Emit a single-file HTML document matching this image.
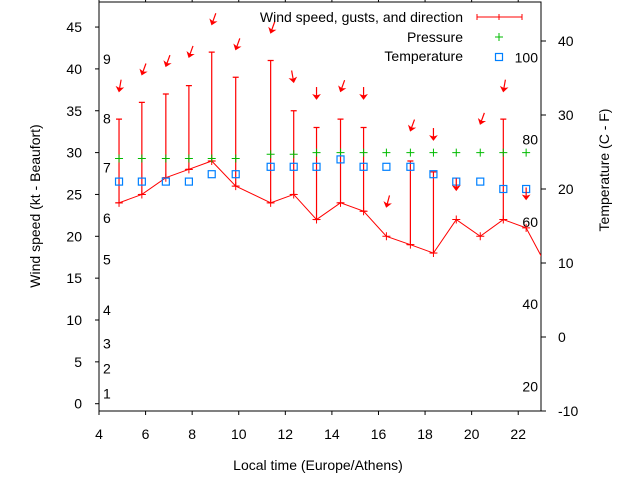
<!DOCTYPE html>
<html><head><meta charset="utf-8"><style>
html,body{margin:0;padding:0;background:#fff}
svg{display:block;font-family:"Liberation Sans",sans-serif}
</style></head><body>
<svg id="c" width="640" height="480" viewBox="0 0 640 480"></svg>
<script>
const hours=[4.86,5.84,6.87,7.86,8.84,9.87,11.37,12.36,13.34,14.37,15.36,16.34,17.37,18.36,19.34,20.37,21.36,22.34,23.3];
const wind=[24,25,27,28,29,26,24,25,22,24,23,20,19,18,22,20,22,21,16];
const gusts=[34,36,37,38,42,39,41,35,33,34,33,null,29,27.7,null,null,34,null,null];
const pressure=[29.3,29.3,29.3,29.3,29.3,29.3,29.8,29.8,30,30,30,30,30,30,30,30,30,30,null];
const tempC=[21,21,21,21,22,22,23,23,23,24,23,23,23,22,21,21,20,20,null];
const arrowLevel=[37.3,39.3,40.3,41.4,45.3,42.3,44.3,38.4,36.4,37.3,36.4,23.5,32.6,31.5,25.5,33.4,37.3,24.4,null];
const windDir=[10,20,20,20,20,20,20,350,0,20,0,15,20,0,0,20,10,0,null];
const xTicks=[4,6,8,10,12,14,16,18,20,22];
const yTicks=[0,5,10,15,20,25,30,35,40,45];
const y2Ticks=[-10,0,10,20,30,40];
const beaufortLabels=[[1,1.2],[2,4.2],[3,7.2],[4,11.2],[5,17.2],[6,22.2],[7,28.2],[8,34.1],[9,41.2]];
const fahrenheitLabels=[20,40,60,80,100];

const L=99,R=541,T=2,B=411;
const X=h=>L+(h-4)*23.29;
const Y=v=>403.7-v*8.37;
const Y2=c=>337-c*7.4;
const svg=document.getElementById('c');
const NS='http://www.w3.org/2000/svg';
function mk(tag,attrs,parent){const e=document.createElementNS(NS,tag);for(const k in attrs)e.setAttribute(k,attrs[k]);(parent||svg).appendChild(e);return e;}
function txt(x,y,s,anchor,extra){const e=mk('text',Object.assign({x:x,y:y,'font-size':14,'text-anchor':anchor||'middle',fill:'#000'},extra||{}));e.textContent=s;return e;}

const defs=mk('defs',{});const cp=mk('clipPath',{id:'pc'},defs);mk('rect',{x:L,y:T,width:R-L,height:B-T},cp);

let a=mk('path',{d:`M${L} ${T}V${B}H${R}V${T}H${L}`,stroke:'#000','stroke-width':1,fill:'none'});

xTicks.forEach(t=>{const x=X(t);mk('line',{x1:x,y1:B,x2:x,y2:B+4,stroke:'#000'});mk('line',{x1:x,y1:T,x2:x,y2:T-4,stroke:'#000'});
 const e=txt(x,439,String(t));});
yTicks.forEach(t=>{const y=Y(t);mk('line',{x1:L,y1:y,x2:L-4,y2:y,stroke:'#000'});
 const e=txt(82,y+5,String(t),'end');});
y2Ticks.forEach(t=>{const y=Y2(t);mk('line',{x1:R,y1:y,x2:R+5,y2:y,stroke:'#000'});
 const e=txt(558,y+5,String(t),'start');});
beaufortLabels.forEach(b=>{const e=txt(103,Y(b[1])+5,String(b[0]),'start');});
fahrenheitLabels.forEach(f=>{const e=txt(538,Y2((f-32)*5/9)+5,String(f),'end');});

let e=txt(318,470,'Local time (Europe/Athens)');
e=txt(0,0,'Wind speed (kt - Beaufort)','middle',{transform:'translate(40,206) rotate(-90)'});
e=txt(0,0,'Temperature (C - F)','middle',{transform:'translate(609,170) rotate(-90)'});

const g=mk('g',{'clip-path':'url(#pc)'});
hours.forEach((h,i)=>{if(gusts[i]==null)return;const x=X(h);
 const b=mk('path',{d:`M${x} ${Y(wind[i])}V${Y(gusts[i])}M${x-3} ${Y(gusts[i])}H${x+3}M${x-3} ${Y(wind[i])}H${x+3}`,stroke:'#f00','stroke-width':1.2,fill:'none'},g);
 });
const wl=mk('polyline',{points:hours.map((h,i)=>X(h)+','+Y(wind[i])).join(' '),stroke:'#f00','stroke-width':1,fill:'none'},g);

hours.forEach((h,i)=>{const x=X(h),y=Y(wind[i]);const p=mk('path',{d:`M${x-4} ${y}H${x+4}M${x} ${y-4}V${y+4}`,stroke:'#f00','stroke-width':1},g);
 });
hours.forEach((h,i)=>{if(pressure[i]==null)return;const x=X(h),y=Y(pressure[i]);const p=mk('path',{d:`M${x-4} ${y}H${x+4}M${x} ${y-4}V${y+4}`,stroke:'#0b0','stroke-width':1},g);
 });
hours.forEach((h,i)=>{if(tempC[i]==null)return;const x=X(h),y=Y2(tempC[i]);const p=mk('rect',{x:x-3.5,y:y-3.5,width:7,height:7,stroke:'#0080ff','stroke-width':1.2,fill:'none'},g);
 });
hours.forEach((h,i)=>{if(arrowLevel[i]==null)return;const x=X(h),y=Y(arrowLevel[i]);const ag=mk('g',{transform:`translate(${x},${y}) rotate(${windDir[i]})`},g);
 
 mk('line',{x1:0,y1:-12,x2:0,y2:-2,stroke:'#f00','stroke-width':1.2},ag);
 mk('path',{d:'M0 0L-3 -4L0 -3L3 -4Z',fill:'#f00',stroke:'#f00','stroke-width':1},ag);});

e=txt(463,22,'Wind speed, gusts, and direction','end');
e=mk('path',{d:'M477 17H522M477 14V20M522 14V20M499 14V20',stroke:'#f00','stroke-width':1,fill:'none'});
e=txt(463,42,'Pressure','end');
e=mk('path',{d:'M495 37H503M499 33V41',stroke:'#0b0','stroke-width':1});
e=txt(463,61,'Temperature','end');
e=mk('rect',{x:495.5,y:53.5,width:7,height:7,stroke:'#0080ff','stroke-width':1.2,fill:'none'});
</script>
</body></html>
